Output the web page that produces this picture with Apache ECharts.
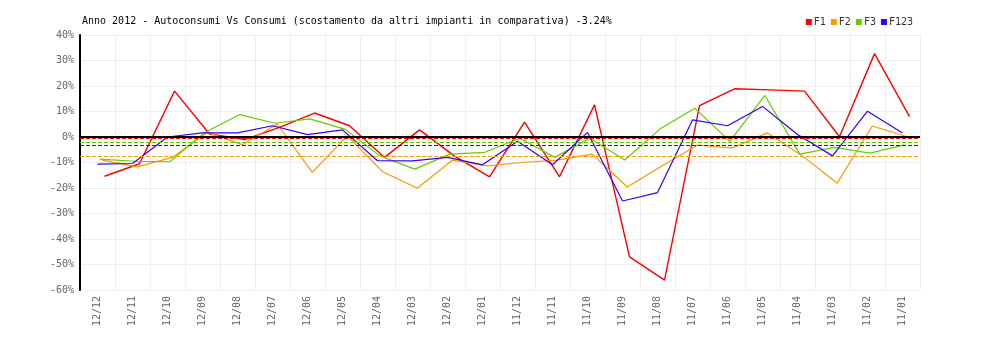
<!DOCTYPE html>
<html>
<head>
<meta charset="utf-8">
<script src="https://cdn.jsdelivr.net/npm/echarts@6/dist/echarts.min.js"></script>
<style>
  html, body { margin: 0; padding: 0; background: #fff; }
  #chart { width: 1000px; height: 340px; }
</style>
</head>
<body>
<div id="chart"></div>
<script>
const titleText = 'Anno 2012 - Autoconsumi Vs Consumi (scostamento da altri impianti in comparativa) -3.24%';
const categories = ['12/12','12/11','12/10','12/09','12/08','12/07','12/06','12/05','12/04','12/03','12/02','12/01',
                    '11/12','11/11','11/10','11/09','11/08','11/07','11/06','11/05','11/04','11/03','11/02','11/01'];
const seriesNames = ['F1', 'F2', 'F3', 'F123'];
const f1   = [-15.4, -10.5, 18.0, 1.2, -1.0, 3.8, 9.4, 4.4, -8.0, 2.8, -7.5, -15.6, 5.8, -15.6, 12.6, -47.0, -56.1, 12.3, 18.9, 18.5, 18.0, 0.1, 32.7, 8.0];
const f2   = [-9.1, -11.7, -8.0, 1.8, -3.0, 5.1, -13.9, 0.5, -13.5, -20.1, -9.1, -11.3, -10.0, -9.1, -6.7, -19.6, -11.3, -3.2, -4.3, 1.6, -7.4, -18.1, 4.3, 0.1];
const f3   = [-8.7, -9.5, -9.7, 1.8, 8.8, 5.4, 7.1, 3.1, -7.4, -12.6, -6.7, -6.0, -0.5, -8.0, -0.5, -9.0, 3.1, 11.3, -1.7, 16.3, -6.7, -4.1, -6.3, -3.1];
const f123 = [-10.6, -10.4, 0.0, 1.6, 1.6, 4.4, 0.9, 2.8, -9.3, -9.4, -8.0, -10.9, -1.7, -10.9, 1.8, -25.1, -21.8, 6.7, 4.4, 12.0, 1.0, -7.4, 10.1, 1.6];
const averages = [-0.4, -7.5, -2.1, -3.24];   // F1, F2, F3, F123 mean lines
const yMin = -60, yMax = 40, yStep = 10;

const colors = ['#ff0000', '#ff9900', '#66cc00', '#3300ff'];
const widths = [1.4, 1.2, 1.2, 1.2];
const offsets = [7, 4.7, 2.3, 0];   // horizontal pixel shift of each series inside its band
const allData = [f1, f2, f3, f123];
const mono = '"DejaVu Sans Mono", "Liberation Mono", monospace';

const G = { left: 80, right: 80, top: 35, bottom: 50 };

const grids = [{ left: G.left, right: G.right, top: G.top, bottom: G.bottom, containLabel: false }];
const xAxes = [{
  type: 'category', gridIndex: 0, data: categories, boundaryGap: true,
  axisLine: { show: false }, axisTick: { show: false },
  axisLabel: { rotate: 90, color: '#666', fontFamily: mono, fontSize: 10, margin: 6 },
  splitLine: { show: true, lineStyle: { color: '#eeeeee', width: 1 } }
}];
const yAxes = [{
  type: 'value', gridIndex: 0, min: yMin, max: yMax, interval: yStep,
  axisLine: { show: true, onZero: false, lineStyle: { color: '#000', width: 2 } },
  axisTick: { show: false },
  axisLabel: { formatter: '{value}%', color: '#666', fontFamily: mono, fontSize: 10, margin: 6 },
  splitLine: { show: true, lineStyle: { color: '#eeeeee', width: 1 } }
}];

const series = [];
seriesNames.forEach((name, i) => {
  let gi = 0;
  if (offsets[i] !== 0) {
    gi = grids.length;
    grids.push({ left: G.left + offsets[i], right: G.right - offsets[i], top: G.top, bottom: G.bottom });
    xAxes.push({ type: 'category', gridIndex: gi, data: categories, boundaryGap: true, show: false });
    yAxes.push({ type: 'value', gridIndex: gi, min: yMin, max: yMax, interval: yStep, show: false, splitLine: { show: false } });
  }
  series.push({
    name: name, type: 'line', xAxisIndex: gi, yAxisIndex: gi,
    data: allData[i], symbol: 'none', showSymbol: false,
    lineStyle: { color: colors[i], width: widths[i] },
    itemStyle: { color: colors[i] },
    animation: false, z: 3
  });
});

// reference lines (zero + averages) on the main grid
series.push({
  name: 'ref', type: 'line', xAxisIndex: 0, yAxisIndex: 0,
  data: categories.map(() => null), symbol: 'none', animation: false, silent: true,
  markLine: {
    silent: true, symbol: ['none', 'none'], animation: false,
    label: { show: false },
    data: [
      { yAxis: 0, lineStyle: { color: '#000', width: 2, type: 'solid' } },
      { yAxis: averages[0], lineStyle: { color: colors[0], width: 1, type: [4, 2] } },
      { yAxis: averages[1], lineStyle: { color: colors[1], width: 1, type: [4, 2] } },
      { yAxis: averages[2], lineStyle: { color: colors[2], width: 1, type: [4, 2] } },
      { yAxis: averages[3], lineStyle: { color: colors[3], width: 1, type: [4, 2] } }
    ]
  },
  z: 2
});

const chart = echarts.init(document.getElementById('chart'), null, { renderer: 'canvas' });
chart.setOption({
  animation: false,
  backgroundColor: '#fff',
  title: {
    text: titleText, left: 77, top: 11,
    textStyle: { fontFamily: mono, fontSize: 10, fontWeight: 'normal', color: '#000' }
  },
  legend: {
    data: seriesNames, right: 82, top: 12, icon: 'rect',
    itemWidth: 6, itemHeight: 6, itemGap: 5,
    textStyle: { fontFamily: mono, fontSize: 10, color: '#333', padding: [0, 0, 0, -3] }
  },
  grid: grids,
  xAxis: xAxes,
  yAxis: yAxes,
  series: series
});
</script>
</body>
</html>
